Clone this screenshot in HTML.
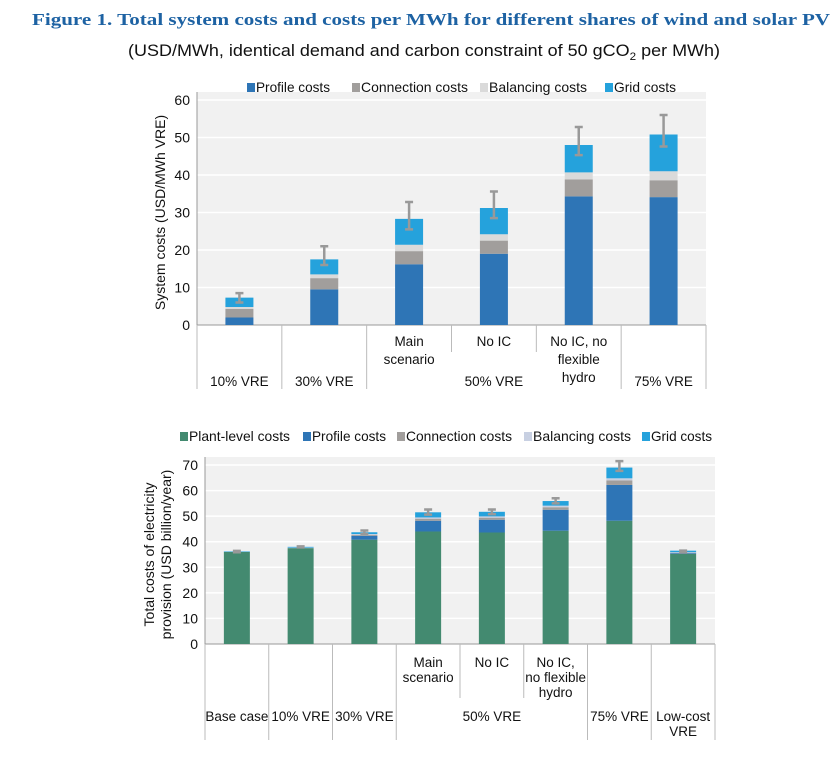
<!DOCTYPE html>
<html><head><meta charset="utf-8"><style>
body{margin:0;background:#fff;width:833px;height:752px;overflow:hidden;font-family:"Liberation Sans",sans-serif}
svg text{font-family:"Liberation Sans",sans-serif}
</style></head><body>
<svg id="s" width="833" height="752">
<text x="32" y="25" textLength="798" lengthAdjust="spacingAndGlyphs" font-weight="bold" font-size="17" fill="#1d62a3" style="font-family:'Liberation Serif',serif">Figure 1. Total system costs and costs per MWh for different shares of wind and solar PV</text>
<text x="128" y="56" font-size="17" fill="#111" textLength="592" lengthAdjust="spacingAndGlyphs">(USD/MWh, identical demand and carbon constraint of 50 gCO<tspan font-size="11" dy="4">2</tspan><tspan dy="-4"> per MWh)</tspan></text>
</svg>
<script>
// ---- Chart 1 data ----
const c1Cats=["10% VRE","30% VRE","Main scenario","No IC","No IC, no flexible hydro","75% VRE"];
const c1Profile=[2,9.5,16.2,19,34.3,34.1];
const c1Connection=[2.3,3,3.5,3.5,4.5,4.5];
const c1Balancing=[0.5,1,1.7,1.7,1.9,2.4];
const c1Grid=[2.5,4,6.9,7,7.3,9.8];
const c1ErrLow=[6,16,25.5,28.5,45.3,47.6];
const c1ErrHigh=[8.5,21,32.8,35.6,52.8,56];
const c1Ticks=[0,10,20,30,40,50,60];
// ---- Chart 2 data ----
const c2Cats=["Base case","10% VRE","30% VRE","Main scenario","No IC","No IC, no flexible hydro","75% VRE","Low-cost VRE"];
const c2Plant=[36,37.5,40.8,44,43.6,44.3,48.2,35.2];
const c2Profile=[0,0,1.5,4.2,5,8.2,14,0.3];
const c2Connection=[0,0,0.4,0.8,0.8,1,1.8,0.2];
const c2Balancing=[0,0.2,0.3,0.5,0.5,0.6,0.8,0.2];
const c2Grid=[0.2,0.3,0.7,2,1.8,1.8,4.2,0.6];
const c2ErrLow=[35.9,37.8,43,50.6,50.8,55,67.7,35.8];
const c2ErrHigh=[36.4,38.2,44.4,52.6,52.6,57,71.5,36.5];
const c2Ticks=[0,10,20,30,40,50,60,70];

const NS="http://www.w3.org/2000/svg";
const svg=document.getElementById('s');
function el(tag,attrs,parent){const e=document.createElementNS(NS,tag);for(const k in attrs)e.setAttribute(k,attrs[k]);(parent||svg).appendChild(e);return e;}
function txt(x,y,s,attrs,parent){const t=el('text',Object.assign({x:x,y:y,'font-size':13,fill:'#111'},attrs||{}),parent);t.textContent=s;return t;}

function chart(cfg){
  const g=el('g',{});
  
  
  const yS=v=>cfg.y0-(v/cfg.max)*(cfg.y0-cfg.yTop);
  const n=cfg.cats.length, step=(cfg.right-cfg.left)/n;
  const xC=i=>cfg.left+step*(i+0.5);
  const bg=el('rect',{x:cfg.left,y:cfg.yTop-8,width:cfg.right-cfg.left,height:cfg.y0-cfg.yTop+8,fill:'#f1f1f1'},g);
  
  
  cfg.ticks.forEach(t=>{
    if(t>0){const l=el('line',{x1:cfg.left,x2:cfg.right,y1:yS(t),y2:yS(t),stroke:'#fff','stroke-width':1.5},g);
      }
    const tl=txt(cfg.left-7,yS(t)+5,String(t),{'text-anchor':'end','font-size':14},g);
    
  });
  el('line',{x1:cfg.left,x2:cfg.left,y1:cfg.yTop-8,y2:cfg.y0,stroke:'#999'},g);
  el('line',{x1:cfg.left,x2:cfg.right,y1:cfg.y0,y2:cfg.y0,stroke:'#999'},g);
  cfg.cats.forEach((c,i)=>{
    let base=0;
    cfg.series.forEach(s=>{
      const v=s.data[i]; if(v<=0)return;
      const r=el('rect',{x:xC(i)-cfg.bw/2,y:yS(base+v),width:cfg.bw,height:yS(base)-yS(base+v),fill:s.color},g);
      
      
      base+=v;
    });
    const lo=yS(cfg.errLow[i]),hi=yS(cfg.errHigh[i]);
    const eb=el('path',{d:`M${xC(i)} ${lo}V${hi}M${xC(i)-4} ${lo}h8M${xC(i)-4} ${hi}h8`,stroke:'#999','stroke-width':2.5,fill:'none'},g);
    
    
  });
  for(let i=0;i<=n;i++){
    const x=cfg.left+step*i;
    const short=cfg.shortSeps.includes(i);
    el('line',{x1:x,x2:x,y1:cfg.y0,y2:short?cfg.shortBottom:cfg.sepBottom,stroke:'#bbb'},g);
  }
  cfg.labels.forEach(L=>{
    L.lines.forEach((s,k)=>{
      const t=txt(L.x,L.y+k*cfg.lh,s,{'text-anchor':'middle','font-size':13.5},g);
      
      
    });
  });
  cfg.legend.forEach(L=>{
    const sw=el('rect',{x:L.x,y:cfg.legY-9,width:8,height:9,fill:L.color},g);
    
    const t=txt(L.x+9,cfg.legY,L.text,{'font-size':14,textLength:L.w,lengthAdjust:'spacingAndGlyphs'},g);
    
  });
  cfg.ytitle.forEach((s,k)=>{
    const t=txt(0,0,s,{'text-anchor':'middle','font-size':14,transform:`translate(${cfg.ytx+k*17},${(cfg.y0+cfg.yTop)/2}) rotate(-90)`},g);
    
  });
  return xC;
}

const P='#2e75b6',C='#a19e9c',B='#dadada',G='#25a2dc',PL='#438a70';
const x1=c=>197+(706-197)/6*(c+0.5);
chart({name:'system-costs-chart',cats:c1Cats,left:197,right:706,y0:325,yTop:100,max:60,bw:28,ticks:c1Ticks,
  series:[{key:'profile',data:c1Profile,color:P},{key:'connection',data:c1Connection,color:C},{key:'balancing',data:c1Balancing,color:B},{key:'grid',data:c1Grid,color:G}],
  errLow:c1ErrLow,errHigh:c1ErrHigh,shortSeps:[3,4],shortBottom:352,sepBottom:389,lh:18,
  labels:[{x:x1(0),y:386,lines:["10% VRE"]},{x:x1(1),y:386,lines:["30% VRE"]},{x:x1(2),y:346,lines:["Main","scenario"]},{x:x1(3),y:346,lines:["No IC"]},{x:x1(4),y:346,lines:["No IC, no","flexible","hydro"]},{x:x1(5),y:386,lines:["75% VRE"]},{x:x1(3),y:386,lines:["50% VRE"]}],
  legY:92,legend:[{x:247,w:74,text:'Profile costs',color:P},{x:352,w:107,text:'Connection costs',color:C},{x:480,w:98,text:'Balancing costs',color:B},{x:605,w:62,text:'Grid costs',color:G}],
  ytitle:['System costs (USD/MWh VRE)'],ytx:165});
const x2=c=>205+(715-205)/8*(c+0.5);
chart({name:'total-costs-chart',cats:c2Cats,left:205,right:715,y0:644,yTop:465,max:70,bw:26,ticks:c2Ticks,
  series:[{key:'plant',data:c2Plant,color:PL},{key:'profile',data:c2Profile,color:P},{key:'connection',data:c2Connection,color:C},{key:'balancing',data:c2Balancing,color:'#c8d0e2'},{key:'grid',data:c2Grid,color:G}],
  errLow:c2ErrLow,errHigh:c2ErrHigh,shortSeps:[4,5],shortBottom:698,sepBottom:740,lh:15,
  labels:[{x:x2(0),y:721,lines:["Base case"]},{x:x2(1),y:721,lines:["10% VRE"]},{x:x2(2),y:721,lines:["30% VRE"]},{x:x2(3),y:667,lines:["Main","scenario"]},{x:x2(4),y:667,lines:["No IC"]},{x:x2(5),y:667,lines:["No IC,","no flexible","hydro"]},{x:x2(6),y:721,lines:["75% VRE"]},{x:x2(7),y:721,lines:["Low-cost","VRE"]},{x:x2(4),y:721,lines:["50% VRE"]}],
  legY:441,legend:[{x:180,w:101,text:'Plant-level costs',color:PL},{x:303,w:74,text:'Profile costs',color:P},{x:397,w:106,text:'Connection costs',color:C},{x:524,w:98,text:'Balancing costs',color:'#c8d0e2'},{x:642,w:61,text:'Grid costs',color:G}],
  ytitle:['Total costs of electricity','provision (USD billion/year)'],ytx:154});
</script>
</body></html>
